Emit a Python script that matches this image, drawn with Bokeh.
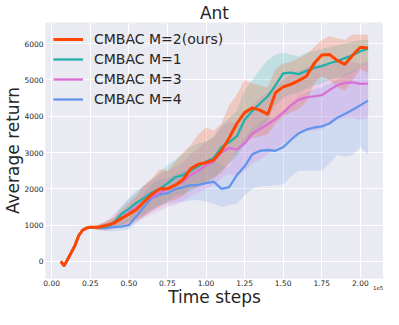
import math
from bokeh.plotting import figure
from bokeh.models import (Range1d, Legend, LegendItem, FixedTicker, NumeralTickFormatter,
                          LinearAxis, CustomJSTickFormatter)
from bokeh.embed import file_html
from bokeh.resources import INLINE

# ---------------- data ----------------
early_x = [0.06, 0.08, 0.10, 0.125, 0.15, 0.175, 0.20, 0.225, 0.25]
early_y = [0, -120, 30, 230, 430, 710, 860, 920, 940]

late_x = [0.30, 0.35, 0.40, 0.45, 0.50, 0.55, 0.60, 0.65, 0.70, 0.75,
          0.80, 0.85, 0.90, 0.95, 1.00, 1.05, 1.10, 1.15, 1.20, 1.25,
          1.30, 1.35, 1.40, 1.45, 1.50, 1.55, 1.60, 1.65, 1.70, 1.75,
          1.80, 1.85, 1.90, 1.95, 2.00, 2.05]

# CMBAC M=2 (ours)
m2_mean = [940, 990, 1050, 1180, 1300, 1430, 1650, 1850, 2000, 2000,
           2100, 2250, 2550, 2680, 2720, 2800, 3050, 3400, 3800, 4100,
           4230, 4170, 4050, 4650, 4810, 4880, 4980, 5100, 5450, 5690,
           5700, 5540, 5430, 5680, 5900, 5880]
m2_low = [860, 880, 920, 1000, 1050, 1150, 1250, 1400, 1500, 1650,
          1700, 1800, 2000, 2050, 2200, 2300, 2450, 2700, 3000, 3300,
          3400, 3450, 3500, 3800, 4000, 4100, 4200, 4400, 4900, 5100,
          5000, 4800, 4700, 5000, 5300, 5200]
m2_high = [1020, 1100, 1200, 1400, 1600, 1800, 2100, 2300, 2550, 2500,
           2750, 3000, 3200, 3500, 3700, 3600, 3800, 4300, 4600, 5000,
           4900, 4850, 4800, 5300, 5450, 5500, 5600, 5700, 5900, 6100,
           6200, 6150, 6100, 6250, 6250, 6250]

# CMBAC M=1
m1_mean = [940, 960, 1050, 1300, 1450, 1620, 1750, 1900, 2000, 2150,
           2320, 2380, 2500, 2620, 2750, 2850, 3150, 3280, 3450, 3900,
           4150, 4350, 4550, 4850, 5180, 5200, 5160, 5250, 5330, 5380,
           5460, 5520, 5600, 5680, 5790, 5860]
m1_low = [880, 880, 920, 1000, 1100, 1200, 1300, 1450, 1550, 1650,
          1800, 1850, 1950, 2050, 2150, 2300, 2500, 2700, 2900, 3200,
          3500, 3700, 3900, 4300, 4500, 4600, 4650, 4750, 4850, 4900,
          5000, 5050, 5100, 5200, 5350, 5450]
m1_high = [1000, 1080, 1200, 1500, 1750, 1950, 2100, 2250, 2450, 2650,
           2800, 2950, 3150, 3250, 3300, 3450, 3750, 3950, 4150, 4700,
           5000, 5300, 5550, 5700, 5750, 5700, 5650, 5750, 5800, 5850,
           5900, 5950, 6000, 6050, 6100, 6100]

# CMBAC M=3
m3_mean = [940, 960, 1080, 1200, 1350, 1500, 1650, 1780, 1900, 2000,
           2100, 2200, 2380, 2500, 2650, 2750, 3000, 3130, 3080, 3250,
           3520, 3650, 3780, 3920, 4100, 4300, 4450, 4520, 4550, 4580,
           4720, 4850, 4920, 4930, 4890, 4900]
m3_low = [880, 850, 900, 950, 1000, 1100, 1200, 1300, 1400, 1500,
          1550, 1650, 1800, 1900, 2000, 2100, 2300, 2400, 2350, 2500,
          2700, 2800, 2950, 3100, 3250, 3400, 3500, 3600, 3600, 3650,
          3800, 3900, 3950, 3950, 3900, 3950]
m3_high = [1000, 1100, 1300, 1500, 1700, 1900, 2100, 2250, 2400, 2500,
           2600, 2750, 2950, 3100, 3300, 3400, 3700, 3850, 3800, 4000,
           4300, 4500, 4650, 4800, 5000, 5150, 5250, 5350, 5400, 5450,
           5400, 5500, 5500, 5500, 5450, 5500]

# CMBAC M=4
m4_mean = [930, 920, 950, 960, 1000, 1250, 1520, 1750, 1840, 1880,
           1990, 2040, 2100, 2110, 2160, 2200, 2000, 2050, 2380, 2620,
           2950, 3050, 3070, 3050, 3150, 3350, 3530, 3630, 3690, 3720,
           3800, 3960, 4060, 4180, 4300, 4430]
m4_low = [880, 830, 830, 850, 880, 1050, 1250, 1400, 1550, 1580,
          1620, 1650, 1680, 1690, 1650, 1580, 1500, 1550, 1580, 1820,
          2000, 2075, 2075, 2100, 2120, 2350, 2500, 2500, 2500, 2500,
          2700, 2930, 2890, 2930, 3150, 2930]
m4_high = [980, 1000, 1060, 1100, 1200, 1550, 1900, 2150, 2250, 2300,
           2400, 2500, 2550, 2600, 2650, 2800, 2650, 2600, 3100, 3400,
           3650, 3850, 3950, 4000, 4150, 4350, 4550, 4650, 4750, 4800,
           4900, 5000, 5150, 5250, 5350, 5450]

labels = ["CMBAC M=2(ours)", "CMBAC M=1", "CMBAC M=3", "CMBAC M=4"]
colors = ["#FF4500", "#20B2AA", "#DA70D6", "#6495ED"]
x_ticks = [0.0, 0.25, 0.5, 0.75, 1.0, 1.25, 1.5, 1.75, 2.0]
y_ticks = [0, 1000, 2000, 3000, 4000, 5000, 6000]
offset_text = "1e5"

xs = early_x + late_x
series = [
    (early_y + m2_mean, early_y + m2_low, early_y + m2_high),
    (early_y + m1_mean, early_y + m1_low, early_y + m1_high),
    (early_y + m3_mean, early_y + m3_low, early_y + m3_high),
    (early_y + m4_mean, early_y + m4_low, early_y + m4_high),
]
widths = [3.0, 2.3, 2.3, 2.3]

# ---------------- layout ----------------
W, H = 383, 309
X0, X1 = -0.04, 2.15
Y0, Y1 = -469, 6582
OFFSET_POS = 2.115          # where the "1e5" offset text sits (right edge)
FONT = "DejaVu Sans"
TXT = "#262626"

p = figure(width=W, height=H, x_range=Range1d(X0, X1), y_range=Range1d(Y0, Y1),
           output_backend="svg", toolbar_location=None,
           min_border_left=0, min_border_right=0, min_border_top=0, min_border_bottom=0)
p.background_fill_color = "#EAEAF2"
p.border_fill_color = "white"
p.outline_line_color = None

p.title.text = "Ant"
p.title.align = "center"
p.title.text_font = FONT
p.title.text_font_size = "17px"
p.title.text_font_style = "normal"
p.title.text_color = TXT
p.title.standoff = 0

xa = p.xaxis[0]
ya = p.yaxis[0]
xa.ticker = FixedTicker(ticks=x_ticks)
ya.ticker = FixedTicker(ticks=y_ticks)
xa.formatter = NumeralTickFormatter(format="0.00")
ya.formatter = NumeralTickFormatter(format="0")

# second bottom axis: carries the "1e5" offset text and the x axis title
xa2 = LinearAxis(ticker=FixedTicker(ticks=[OFFSET_POS]),
                 formatter=CustomJSTickFormatter(code="return '%s'" % offset_text))
p.add_layout(xa2, "below")

for ax in (xa, ya, xa2):
    ax.axis_line_color = None
    ax.major_tick_line_color = None
    ax.minor_tick_line_color = None
    ax.major_tick_out = 0
    ax.major_tick_in = 0
    ax.minor_tick_out = 0
    ax.major_label_text_font_size = "7.5px"
    ax.major_label_text_font = FONT
    ax.major_label_text_color = TXT
    ax.axis_label_text_font = FONT
    ax.axis_label_text_font_style = "normal"
    ax.axis_label_text_color = TXT
xa.major_label_standoff = 1
ya.major_label_standoff = 2
ya.axis_label = "Average return"
ya.axis_label_text_font_size = "17px"
ya.axis_label_standoff = -2
xa2.major_label_text_font_size = "5.5px"
xa2.major_label_standoff = -4
xa2.axis_label = "Time steps"
xa2.axis_label_text_font_size = "17px"
xa2.axis_label_standoff = -6

p.grid.grid_line_color = "white"
p.grid.grid_line_width = 1

# bands (drawn back to front)
for i in [3, 2, 1, 0]:
    m, lo, hi = series[i]
    p.varea(x=xs, y1=lo, y2=hi, fill_color=colors[i], fill_alpha=0.2)

renderers = {}
for i in [3, 2, 1, 0]:
    m, lo, hi = series[i]
    renderers[i] = p.line(xs, m, line_color=colors[i], line_width=widths[i])

legend = Legend(items=[LegendItem(label=labels[i], renderers=[renderers[i]]) for i in range(4)],
                location=(8, 171), padding=0, margin=0, spacing=4,
                glyph_width=30, glyph_height=16, label_height=16, label_standoff=11,
                label_text_font_size="14px", label_text_font=FONT, label_text_color=TXT,
                background_fill_alpha=0, border_line_alpha=0)
p.add_layout(legend)

open("out.html", "w").write(file_html(p, INLINE))
